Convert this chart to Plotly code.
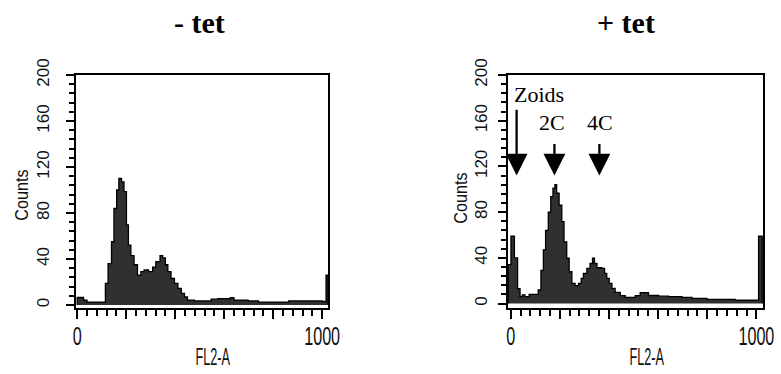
import plotly.graph_objects as go

# ---- data (channel bin edges and counts) ----
left_edges = [0, 26, 40, 115, 126, 140, 150, 161, 170, 181, 191, 201, 209, 219, 232,
              246, 260, 273, 291, 308, 321, 338, 349, 360, 370, 383, 397, 411, 425,
              438, 450, 478, 547, 574, 625, 640, 698, 740, 863, 1000, 1016, 1024]
left_counts = [6.5, 4.3, 2.5, 18.8, 36, 55, 84, 100, 110, 107, 98.5, 69.6, 52, 43,
               35, 26, 29, 30.4, 29, 33, 37.7, 43, 40.9, 35, 29, 23, 18.8, 14.5, 10,
               7, 4.3, 3.5, 5, 5.5, 6.4, 4.3, 3.5, 2.5, 3.5, 3, 26]

right_edges = [-10, 1, 15, 28, 38, 47, 58, 75, 112, 123, 133, 142, 153, 163, 172,
               180, 187, 197, 208, 217, 228, 238, 249, 262, 276, 287, 296, 310, 323,
               333, 341, 351, 371, 382, 391, 401, 412, 425, 446, 466, 507, 527, 561,
               602, 643, 697, 738, 799, 914, 1009, 1024]
right_counts = [34, 59, 40, 13, 6, 7.5, 6, 8, 11.8, 29, 47, 64, 80, 93.5, 101, 104,
                96.5, 86, 71.6, 54, 39.6, 27.8, 17.7, 15.6, 17.7, 22, 26.4, 30.8, 35,
                39.6, 35, 31.3, 30.8, 26.4, 22, 17.7, 13.3, 9.8, 6.9, 5.4, 6.9, 9.5,
                7, 6.4, 6, 5.4, 4.5, 3.6, 3, 59]

panel_titles = ["- tet", "+ tet"]
x_title = "FL2-A"
y_title = "Counts"
x_major = [0, 200, 400, 600, 800, 1000]
x_major_text = ["0", "", "", "", "", "1000"]
y_major = [0, 40, 80, 120, 160, 200]

label_text = ["Zoids", "2C", "4C"]
label_x = [4, 170, 362]
label_y = [183, 158, 158]
arrow_x = [24, 178, 361]
arrow_tail = [171, 141, 141]
arrow_tip = 112


def step_xy(edges, counts):
    xs = [edges[0]] + list(edges) + [edges[-1]]
    ys = [0] + list(counts) + [counts[-1], 0]
    return xs, ys


fig = go.Figure()
for edges, counts, xa, ya in [(left_edges, left_counts, "x", "y"),
                              (right_edges, right_counts, "x2", "y2")]:
    xs, ys = step_xy(edges, counts)
    fig.add_trace(go.Scatter(x=xs, y=ys, mode="lines", line_shape="hv",
                             line=dict(color="black", width=1.3),
                             fill="tozeroy", fillcolor="#303030",
                             xaxis=xa, yaxis=ya, showlegend=False,
                             hoverinfo="skip"))

sans = "Liberation Sans, Arial, sans-serif"
serif = "Liberation Serif, Times New Roman, serif"

ydom = [1 - 307.5 / 374, 1 - 75 / 374]
xcommon = dict(showline=True, mirror=True, linecolor="black", linewidth=2,
               showgrid=False, zeroline=False, ticks="outside", ticklen=9,
               tickwidth=1.5, tickcolor="black", tickmode="array",
               tickvals=x_major, ticktext=x_major_text, automargin=False,
               ticklabeloverflow="allow", ticklabelstandoff=-5,
               tickfont=dict(family=sans, size=26, color="#111111"),
               minor=dict(ticks="outside", dtick=40, tick0=0, ticklen=6,
                          tickwidth=1.5, tickcolor="black", showgrid=False))
ycommon = dict(showline=True, mirror=True, linecolor="black", linewidth=2,
               showgrid=False, zeroline=False, ticks="outside", ticklen=8,
               tickwidth=1.5, tickcolor="black", tickmode="array",
               tickvals=y_major, tickangle=-90, automargin=False,
               ticklabeloverflow="allow",
               tickfont=dict(family=sans, size=17, color="#111111"),
               minor=dict(ticks="outside", dtick=8, tick0=0, ticklen=5,
                          tickwidth=1.5, tickcolor="black", showgrid=False))

fig.update_layout(
    width=781, height=374,
    margin=dict(l=0, r=0, t=0, b=0, pad=0, autoexpand=False),
    paper_bgcolor="white", plot_bgcolor="white",
    xaxis=dict(domain=[76 / 781, 328 / 781], range=[-5, 1024], anchor="y", **xcommon),
    yaxis=dict(domain=ydom, range=[-2.2, 200], anchor="x", ticklabelstandoff=10, **ycommon),
    xaxis2=dict(domain=[508 / 781, 763 / 781], range=[-11, 1027], anchor="y2", **xcommon),
    yaxis2=dict(domain=ydom, range=[-3.5, 200], anchor="x2", ticklabelstandoff=4, **ycommon),
)

ann = []
# panel titles
for t, xc in zip(panel_titles, [199 / 781, 626 / 781]):
    ann.append(dict(text="<b>%s</b>" % t, x=xc, y=1 - 22 / 374, xref="paper", yref="paper",
                    showarrow=False, xanchor="center", yanchor="middle",
                    font=dict(family=serif, size=30, color="black")))
# axis titles
for xc in [213 / 781, 646 / 781]:
    ann.append(dict(text=x_title, x=xc, y=1 - 356 / 374, xref="paper", yref="paper",
                    showarrow=False, xanchor="center", yanchor="middle",
                    font=dict(family=sans, size=24, color="#111111")))
for xc, yc in [(21.5 / 781, 1 - 195 / 374), (460.5 / 781, 1 - 198 / 374)]:
    ann.append(dict(text=y_title, x=xc, y=yc, xref="paper", yref="paper", textangle=-90,
                    showarrow=False, xanchor="center", yanchor="middle",
                    font=dict(family=sans, size=18, color="#111111")))
# peak labels and arrows
for txt, lx, ly, i in zip(label_text, label_x, label_y, range(3)):
    ann.append(dict(text=txt, x=lx, y=ly, xref="x2", yref="y2", showarrow=False,
                    xanchor="left" if i == 0 else "center", yanchor="middle",
                    font=dict(family=serif, size=22, color="black")))
for axp, tail in zip(arrow_x, arrow_tail):
    ann.append(dict(text="", x=axp, y=arrow_tip, ax=axp, ay=tail,
                    xref="x2", yref="y2", axref="x2", ayref="y2",
                    showarrow=True, arrowhead=2, arrowsize=1.9, arrowwidth=2.3,
                    arrowcolor="black"))
fig.update_layout(annotations=ann)

# the original chart uses a very condensed sans face for the x labels:
# narrow those text elements horizontally (they stay real SVG text)
squeeze_js = """
function squeeze(el, f) {
  var w = el.getComputedTextLength();
  if (!w) return;
  el.setAttribute('lengthAdjust', 'spacingAndGlyphs');
  el.setAttribute('textLength', (w * f).toFixed(1));
}
document.querySelectorAll('g.xtick text, g.x2tick text').forEach(function (t) {
  squeeze(t, 0.62);
});
document.querySelectorAll('text.annotation-text').forEach(function (t) {
  if (t.textContent === 'FL2-A') squeeze(t, 0.53);
  if (t.textContent === 'Counts') squeeze(t, 0.9);
});
"""

fig.write_html("out.html", post_script=squeeze_js)
